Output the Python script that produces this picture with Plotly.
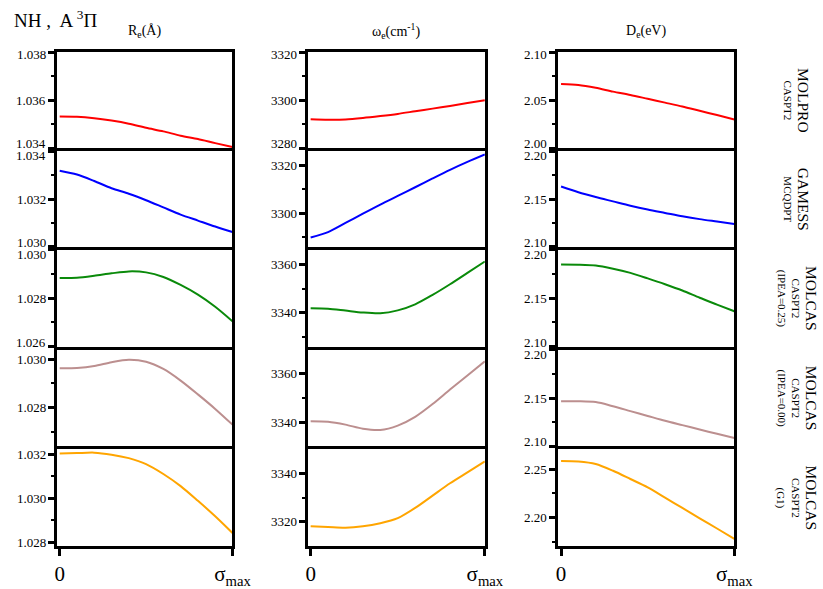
import plotly.graph_objects as go
from plotly.subplots import make_subplots

# sampling of the perturbation strength, 0 .. sigma_max
sigma = [0.0, 0.1, 0.2, 0.3, 0.4, 0.5, 0.6, 0.7, 0.8, 0.9, 1.0]

# MOLPRO CASPT2
re_molpro = [1.03532, 1.03531, 1.03525, 1.03515, 1.03502, 1.03485, 1.03470, 1.03452, 1.03438, 1.03421, 1.03405]
we_molpro = [3292.1, 3291.9, 3292.0, 3292.6, 3293.4, 3294.3, 3295.4, 3296.5, 3297.6, 3298.8, 3300.0]
de_molpro = [2.0670, 2.0660, 2.0630, 2.0590, 2.0555, 2.0515, 2.0475, 2.0435, 2.0390, 2.0345, 2.0300]

# GAMESS MCQDPT
re_gamess = [1.03318, 1.03302, 1.03275, 1.03245, 1.03222, 1.03195, 1.03165, 1.03135, 1.03110, 1.03085, 1.03062]
we_gamess = [3289.9, 3292.2, 3296.0, 3299.9, 3303.7, 3307.3, 3310.9, 3314.6, 3318.2, 3321.5, 3324.6]
de_gamess = [2.1630, 2.1570, 2.1520, 2.1475, 2.1430, 2.1390, 2.1355, 2.1320, 2.1290, 2.1265, 2.1240]

# MOLCAS CASPT2 (IPEA=0.25)
re_ipea25 = [1.02884, 1.02885, 1.02893, 1.02903, 1.02911, 1.02907, 1.02888, 1.02855, 1.02815, 1.02765, 1.02705]
we_ipea25 = [3341.9, 3341.7, 3340.9, 3340.1, 3339.8, 3341.0, 3343.5, 3347.4, 3351.8, 3356.5, 3361.2]
de_ipea25 = [2.1849, 2.1847, 2.1838, 2.1805, 2.1762, 2.1705, 2.1645, 2.1580, 2.1505, 2.1435, 2.1366]

# MOLCAS CASPT2 (IPEA=0.00)
re_ipea00 = [1.02963, 1.02964, 1.02972, 1.02988, 1.02998, 1.02990, 1.02960, 1.02912, 1.02855, 1.02795, 1.02730]
we_ipea00 = [3340.4, 3340.2, 3339.0, 3337.3, 3336.8, 3338.6, 3342.2, 3347.5, 3353.5, 3359.3, 3365.2]
de_ipea00 = [2.1467, 2.1467, 2.1458, 2.1415, 2.1365, 2.1315, 2.1265, 2.1220, 2.1175, 2.1130, 2.1087]

# MOLCAS CASPT2 (G1)
re_g1 = [1.03203, 1.03205, 1.03207, 1.03198, 1.03182, 1.03155, 1.03110, 1.03055, 1.02988, 1.02918, 1.02842]
we_g1 = [3318.2, 3317.9, 3317.6, 3318.2, 3319.5, 3321.6, 3325.8, 3330.9, 3336.0, 3340.5, 3345.0]
de_g1 = [2.2586, 2.2581, 2.2555, 2.2485, 2.2400, 2.2313, 2.2206, 2.2100, 2.1993, 2.1887, 2.1780]

row_labels = [
    "MOLPRO<br>CASPT2",
    "GAMESS<br>MCQDPT",
    "MOLCAS<br>CASPT2<br>(IPEA=0.25)",
    "MOLCAS<br>CASPT2<br>(IPEA=0.00)",
    "MOLCAS<br>CASPT2<br>(G1)",
]
col_titles = ["R<sub>e</sub>(Å)", "ω<sub>e</sub>(cm<sup>-1</sup>)", "D<sub>e</sub>(eV)"]
x_tick_text = ["0", "σ<sub>max</sub>"]

series = [
    [re_molpro, we_molpro, de_molpro],
    [re_gamess, we_gamess, de_gamess],
    [re_ipea25, we_ipea25, de_ipea25],
    [re_ipea00, we_ipea00, de_ipea00],
    [re_g1, we_g1, de_g1],
]
colors = ["#ff0000", "#0000ff", "#0a8a0a", "#bc8f8f", "#ffa500"]

# axis ranges, major and minor ticks of each panel (row, column)
y_axes = [
    [([1.034, 1.038], [1.034, 1.036, 1.038], [1.035, 1.037]),
     ([3280, 3320], [3280, 3300, 3320], [3290, 3310]),
     ([2.00, 2.10], [2.00, 2.05, 2.10], [2.025, 2.075])],
    [([1.030, 1.034], [1.030, 1.032, 1.034], [1.031, 1.033]),
     ([3286, 3326], [3300, 3320], [3290, 3310]),
     ([2.10, 2.20], [2.10, 2.15, 2.20], [2.125, 2.175])],
    [([1.026, 1.030], [1.026, 1.028, 1.030], [1.027, 1.029]),
     ([3326, 3366], [3340, 3360], [3330, 3350]),
     ([2.10, 2.20], [2.10, 2.15, 2.20], [2.125, 2.175])],
    [([1.0264, 1.0304], [1.028, 1.030], [1.027, 1.029]),
     ([3330, 3370], [3340, 3360], [3350]),
     ([2.10, 2.20], [2.10, 2.15, 2.20], [2.125, 2.175])],
    [([1.02782, 1.03222], [1.028, 1.030, 1.032], [1.029, 1.031]),
     ([3310, 3350], [3320, 3340], [3330]),
     ([2.1704, 2.2707], [2.20, 2.25], [2.175, 2.225])],
]

W, H = 823, 589
LW = 3  # frame line width
# centre lines of the frame borders, in pixels
col_lines = [(54.5, 238), (312, 497), (569, 753)]
row_lines = [52, 153, 254, 356, 458, 560]
serif = "Liberation Serif"

fig = make_subplots(rows=5, cols=3)
annotations = []

for r in range(5):
    for c in range(3):
        idx = r * 3 + c + 1
        fig.add_trace(
            go.Scatter(x=sigma, y=series[r][c], mode="lines",
                       line=dict(color=colors[r], width=2, shape="spline", smoothing=0.8),
                       showlegend=False, hoverinfo="skip"),
            row=r + 1, col=c + 1,
        )
        rng, major, minor = y_axes[r][c]
        x0, x1 = col_lines[c][0] + LW / 2, col_lines[c][1] - LW / 2
        t0, t1 = row_lines[r] + LW / 2, row_lines[r + 1] - LW / 2
        xa = "xaxis" if idx == 1 else f"xaxis{idx}"
        ya = "yaxis" if idx == 1 else f"yaxis{idx}"
        yref = "y" if idx == 1 else f"y{idx}"
        fmt = "%.3f" if c == 0 else ("%.0f" if c == 1 else "%.2f")
        fig.update_layout({
            xa: dict(
                domain=[x0 / W, x1 / W], range=[-0.018, 1.0],
                showgrid=False, zeroline=False,
                showline=True, linecolor="black", linewidth=LW, mirror=True,
                tickvals=[0, 1] if r == 4 else [],
                ticktext=x_tick_text if r == 4 else None,
                ticks="outside" if r == 4 else "", ticklen=7, tickwidth=2.5, tickcolor="black",
                showticklabels=(r == 4),
                tickfont=dict(family=serif, size=21, color="black"),
            ),
            ya: dict(
                domain=[1 - t1 / H, 1 - t0 / H], range=rng,
                showgrid=False, zeroline=False,
                showline=True, linecolor="black", linewidth=LW, mirror=True,
                tickvals=major, showticklabels=False,
                ticks="outside", ticklen=6, tickwidth=2.5, tickcolor="black",
                minor=dict(tickvals=minor, ticks="outside", ticklen=3, tickwidth=2, tickcolor="black"),
            ),
        })
        # y tick labels; those at the ends of a range are nudged inside the panel
        span = rng[1] - rng[0]
        for v in major:
            shift = 0
            if abs(v - rng[0]) < 1e-6 * span + 1e-9:
                shift = 4.5
            elif abs(v - rng[1]) < 1e-6 * span + 1e-9:
                shift = -2.5 if r == 0 else -4.5
            annotations.append(dict(
                text=fmt % v, x=(col_lines[c][0] - 9.5) / W, y=v, xref="paper", yref=yref,
                xanchor="right", yanchor="middle", yshift=shift, showarrow=False,
                borderpad=0, borderwidth=0,
                font=dict(family=serif, size=13, color="black")))

annotations.append(
    dict(text="NH ,  A <sup>3</sup>Π", x=10 / W, y=1 - 19 / H, xref="paper", yref="paper",
         xanchor="left", yanchor="middle", showarrow=False,
         font=dict(family=serif, size=19, color="black")))
for c, t in enumerate(col_titles):
    x0, x1 = col_lines[c]
    annotations.append(dict(text=t, x=(x0 + x1) / 2 / W, y=1 - 32 / H, xref="paper", yref="paper",
                            xanchor="center", yanchor="middle", showarrow=False,
                            font=dict(family=serif, size=14, color="black")))
for r, lab in enumerate(row_labels):
    t0, t1 = row_lines[r], row_lines[r + 1]
    first, rest = lab.split("<br>", 1)
    text = f"<span style='font-size:15.5px'>{first}</span><br>{rest}"
    annotations.append(dict(text=text, x=816 / W, y=1 - (t0 + t1) / 2 / H, xref="paper", yref="paper",
                            xanchor="center", yanchor="middle", showarrow=False, textangle=90,
                            borderpad=0, borderwidth=0,
                            font=dict(family=serif, size=11, color="black")))

fig.update_layout(
    width=W, height=H, margin=dict(l=0, r=0, t=0, b=0),
    paper_bgcolor="white", plot_bgcolor="white",
    font=dict(family=serif, color="black"),
    annotations=annotations,
)

fig.write_html("out.html")
